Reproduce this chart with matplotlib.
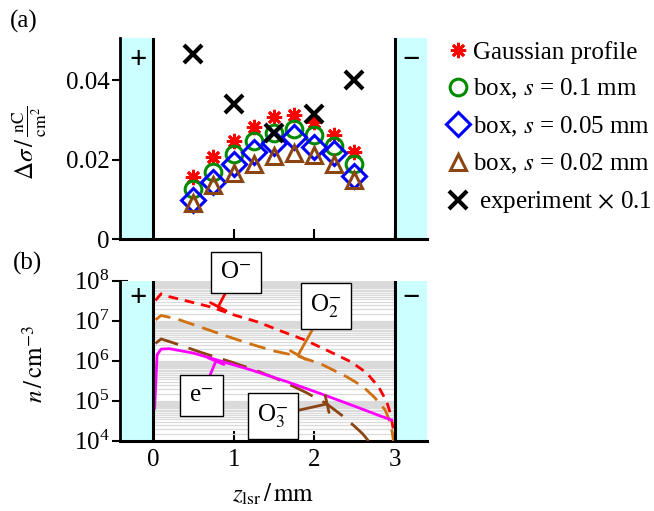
import numpy as np
import matplotlib
matplotlib.use("Agg")
import matplotlib.pyplot as plt
from matplotlib.ticker import LogLocator, NullFormatter, FixedLocator

plt.rcParams['font.family'] = ['Liberation Serif', 'DejaVu Serif']
plt.rcParams['mathtext.fontset'] = 'stix'
plt.rcParams['font.size'] = 18

# ---------------- data: panel (a) ----------------
z_sim = [0.5, 0.75, 1.0, 1.25, 1.5, 1.75, 2.0, 2.25, 2.5]
gauss = [0.0157, 0.0206, 0.0247, 0.0283, 0.0306, 0.0312, 0.0295, 0.0263, 0.0220]
box_01 = [0.0125, 0.0169, 0.0214, 0.0247, 0.0266, 0.0278, 0.0262, 0.0234, 0.0188]
box_005 = [0.0098, 0.0144, 0.0189, 0.0218, 0.0241, 0.0256, 0.0232, 0.0216, 0.0159]
box_002 = [0.0090, 0.0136, 0.0165, 0.0190, 0.0210, 0.0216, 0.0211, 0.0190, 0.0148]
z_exp = [0.5, 1.0, 1.5, 2.0, 2.5]
exp01 = [0.0465, 0.0341, 0.0268, 0.0314, 0.0400]

# ---------------- data: panel (b) ----------------
z_Om = [0.03, 0.1, 0.2, 0.45, 0.7, 1.0, 1.3, 1.6, 1.9, 2.2, 2.45, 2.65, 2.8, 2.9, 2.95, 2.98, 3.0]
n_Om = [3.2e7, 4.7e7, 4.0e7, 3.0e7, 2.25e7, 1.4e7, 9.3e6, 5.4e6, 3.2e6, 1.66e6, 9.5e5, 5.0e5, 2.2e5, 9.5e4, 4.5e4, 2.0e4, 6e3]
z_O2m = [0.03, 0.1, 0.3, 0.6, 0.9, 1.2, 1.5, 1.8, 2.1, 2.4, 2.6, 2.75, 2.88, 2.94, 2.97, 2.99]
n_O2m = [1.05e7, 1.35e7, 1.1e7, 6.8e6, 4.2e6, 2.65e6, 1.75e6, 1.3e6, 8.0e5, 4.0e5, 2.3e5, 1.2e5, 5.9e4, 3.0e4, 1.55e4, 8e3]
z_O3m = [0.03, 0.1, 0.3, 0.6, 1.0, 1.3, 1.62, 1.9, 2.15, 2.35, 2.49, 2.6, 2.69]
n_O3m = [2.7e6, 3.5e6, 2.6e6, 1.6e6, 8.9e5, 5.5e5, 3.0e5, 1.6e5, 8.5e4, 4.2e4, 2.4e4, 1.5e4, 9e3]
z_e = [0.02, 0.05, 0.1, 0.2, 0.5, 0.79, 1.2, 1.66, 2.1, 2.5, 2.8, 2.96]
n_e = [6.5e4, 1.4e6, 1.95e6, 2.0e6, 1.55e6, 1.05e6, 6.0e5, 3.0e5, 1.45e5, 7.3e4, 4.3e4, 3.3e4]

cyan = '#ccffff'
xlim = (-0.41, 3.40)

fig = plt.figure(figsize=(6.54, 5.11), dpi=100)
W, H = 654, 511

def ax_rect(l, t, r, b):
    return [l / W, 1 - b / H, (r - l) / W, (b - t) / H]

axa = fig.add_axes(ax_rect(120, 38, 427, 239))
axb = fig.add_axes(ax_rect(120, 280.7, 427, 440.7))

for ax in (axa, axb):
    ax.set_axisbelow(True)
    ax.set_xlim(*xlim)
    ax.axvspan(xlim[0], 0, color=cyan, lw=0, zorder=1)
    ax.axvspan(3, xlim[1], color=cyan, lw=0, zorder=1)
    ax.axvline(0, color='black', lw=2.2, zorder=5)
    ax.axvline(3, color='black', lw=2.2, zorder=5)
    for s in ('top', 'right'):
        ax.spines[s].set_visible(False)
    ax.spines['left'].set_linewidth(2.0)
    ax.spines['bottom'].set_linewidth(2.2)
    ax.xaxis.set_major_locator(FixedLocator([0, 1, 2, 3]))
    ax.tick_params(axis='x', direction='in', length=7, width=1.5, top=False)
    ax.tick_params(axis='y', direction='inout', length=12, width=1.5, right=False, pad=1.5)
    ax.text(0.058, 0.89, '+', transform=ax.transAxes, ha='center', va='center',
            fontsize=22, fontweight='bold', zorder=6)
    ax.text(0.948, 0.89, '\u2212', transform=ax.transAxes, ha='center', va='center',
            fontsize=22, fontweight='bold', zorder=6)

# ---------- panel (a) ----------
axa.set_ylim(0, 0.0506)
axa.set_yticks([0, 0.02, 0.04])
axa.set_yticklabels(['0', '0.02', '0.04'])
axa.set_xticklabels([])

h1, = axa.plot(z_sim, gauss, ls='none', marker=(8, 2, 0), ms=11, mew=2.0,
               color='#ff0000', label='Gaussian profile', zorder=3)
h2, = axa.plot(z_sim, box_01, ls='none', marker='o', ms=12, mew=2.2, mfc='none',
               mec='#008a00', label=r'box, $s$ = 0.1 mm', zorder=3)
h3, = axa.plot(z_sim, box_005, ls='none', marker='D', ms=12, mew=2.2, mfc='none',
               mec='#0000ff', label=r'box, $s$ = 0.05 mm', zorder=3)
h4, = axa.plot(z_sim, box_002, ls='none', marker='^', ms=12, mew=2.2, mfc='none',
               mec='#8b4513', label=r'box, $s$ = 0.02 mm', zorder=3)
h5, = axa.plot(z_exp, exp01, ls='none', marker='x', ms=13, mew=3.0,
               color='black', label=r' experiment $\times$ 0.1', zorder=4)

fig.legend(handles=[h1, h2, h3, h4, h5], loc='upper left',
           bbox_to_anchor=(448 / W, 1 - 41 / H), frameon=False,
           handlelength=0.8, handletextpad=0.2, labelspacing=0.53,
           borderaxespad=0, borderpad=0, fontsize=18)

# ---------- panel (b) ----------
axb.set_yscale('log')
axb.set_ylim(1e4, 1e8)
axb.yaxis.set_major_locator(LogLocator(base=10, numticks=10))
axb.yaxis.set_minor_locator(LogLocator(base=10, subs=np.arange(1.0, 10.0, 0.5), numticks=40))
axb.yaxis.set_minor_formatter(NullFormatter())
axb.tick_params(axis='y', which='minor', length=0)
axb.grid(True, which='both', axis='y', color='#dadada', lw=0.9)
axb.set_xticklabels(['0', '1', '2', '3'])
axb.tick_params(axis='x', pad=6)

axb.plot(z_Om, n_Om, color='#ff0000', lw=2.0, dashes=(3.5, 2.5), zorder=3)
axb.plot(z_O2m, n_O2m, color='#d07010', lw=2.0, dashes=(6, 3), zorder=3)
axb.plot(z_O3m, n_O3m, color='#8b4513', lw=2.0, dashes=(9, 4), zorder=3)
axb.plot(z_e, n_e, color='#ff00ff', lw=2.0, zorder=3)

bbox = dict(boxstyle='square,pad=0.38', fc='white', ec='black', lw=1.0)

def label(txt, xy_t, xy_box, color):
    axb.annotate(txt, xy=xy_t, xytext=xy_box, ha='center', va='center',
                 bbox=bbox, annotation_clip=False, zorder=7,
                 arrowprops=dict(arrowstyle='-[, widthB=0.35, lengthB=0.0',
                                 color=color, lw=2.0, shrinkA=0, shrinkB=0))

label(r'O$^{-}$', (0.81, 10**7.35), (1.03, 10**8.21), '#ff0000')
label(r'O$_2^{-}$', (1.8, 10**6.14), (2.145, 10**7.37), '#d07010')
label(r'e$^{-}$', (0.78, 10**5.99), (0.60, 10**5.12), '#ff00ff')
label(r'O$_3^{-}$', (2.16, 10**4.92), (1.49, 10**4.62), '#8b4513')

# ---------- labels ----------
fig.text(30 / W, 1 - 143 / H, r'$\Delta\sigma\,/\,\frac{\mathrm{nC}}{\mathrm{cm}^2}$',
         rotation=90, ha='center', va='center', fontsize=18)
fig.text(35 / W, 1 - 364 / H, r'$n\,/\,\mathrm{cm}^{-3}$',
         rotation=90, ha='center', va='center', fontsize=18)
fig.text(273 / W, 1 - 494 / H, r'$z_{\mathrm{lsr}}\,/\,\mathrm{mm}$',
         ha='center', va='center', fontsize=18)
fig.text(24 / W, 1 - 21 / H, '(a)', ha='center', va='center', fontsize=18)
fig.text(27 / W, 1 - 263 / H, '(b)', ha='center', va='center', fontsize=18)

fig.savefig('out.png', dpi=100)
